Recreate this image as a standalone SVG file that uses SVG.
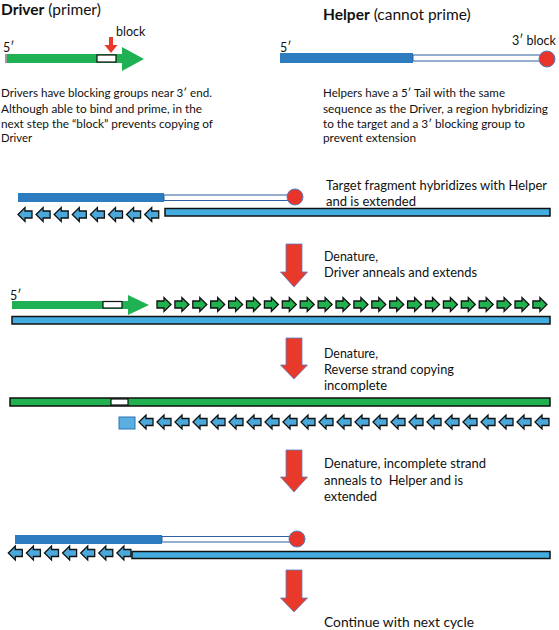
<svg xmlns="http://www.w3.org/2000/svg" width="559" height="630" viewBox="0 0 559 630">
<style>
.t{font-family:Lato,"Open Sans","Liberation Sans",sans-serif;fill:#111}
.ttl{font-size:15.5px}
.b{font-weight:bold}
.p{font-size:11.5px}
.r{font-size:12.5px}
.lbl{font-size:12.5px}
.hb{fill:#2e7cc0}
.hw{fill:#fff;stroke:#2e5f9e;stroke-width:1}
.blk{fill:#e8342a;stroke:#4f7fc0;stroke-width:1}
.tg{fill:#44ade0;stroke:#111;stroke-width:1.5}
.gr{fill:#20b155}
.wb{fill:#fff;stroke:#111;stroke-width:1.2}
.red{fill:#e8392b;stroke:#5b80c0;stroke-width:0.8}
</style>
<defs>
<path id="la" d="M0,0 L7,-7 L7,-3.5 L14,-3.5 L14,3.5 L7,3.5 L7,7 Z" fill="#4aa9da" stroke="#111" stroke-width="1.3" stroke-linejoin="miter"/>
<path id="ra" d="M14,0 L7,-7 L7,-3.5 L0,-3.5 L0,3.5 L7,3.5 L7,7 Z" fill="#21b14e" stroke="#111" stroke-width="1.3"/>
</defs>

<g id="driver-legend">
<text class="t ttl" x="1" y="14.5"><tspan class="b">Driver</tspan> (primer)</text>
<text class="t lbl" x="116" y="36">block</text>
<path d="M109,37 L113,37 L113,45 L117.5,45 L111,53 L104.5,45 L109,45 Z" fill="#e8392b"/>
<text class="t lbl" x="3" y="52">5′</text>
<rect x="5" y="54" width="2" height="9" fill="#9a9a9a"/>
<path class="gr" d="M7,54 L122,54 L122,47 L144,59 L122,71 L122,63 L7,63 Z"/>
<rect class="wb" x="97" y="55" width="19" height="7"/>
<text class="t p" x="1" y="97" textLength="211" lengthAdjust="spacingAndGlyphs">Drivers have blocking groups near 3′ end.</text>
<text class="t p" x="1" y="112.5" textLength="201" lengthAdjust="spacingAndGlyphs">Although able to bind and prime, in the</text>
<text class="t p" x="1" y="128" textLength="212" lengthAdjust="spacingAndGlyphs">next step the “block” prevents copying of</text>
<text class="t p" x="1" y="142" textLength="31" lengthAdjust="spacingAndGlyphs">Driver</text>
</g>

<g id="helper-legend">
<text class="t ttl" x="323" y="20"><tspan class="b">Helper</tspan> (cannot prime)</text>
<text class="t lbl" x="280" y="52">5′</text>
<text class="t lbl" x="512" y="45">3′ block</text>
<rect class="hb" x="280" y="53" width="133" height="10"/>
<rect class="hw" x="413" y="55" width="132" height="6"/>
<circle class="blk" cx="547" cy="59" r="8"/>
<text class="t p" x="323" y="97" textLength="182" lengthAdjust="spacingAndGlyphs">Helpers have a 5′ Tail with the same</text>
<text class="t p" x="323" y="112.5" textLength="225" lengthAdjust="spacingAndGlyphs">sequence as the Driver, a region hybridizing</text>
<text class="t p" x="323" y="128" textLength="202" lengthAdjust="spacingAndGlyphs">to the target and a 3′ blocking group to</text>
<text class="t p" x="323" y="142" textLength="93" lengthAdjust="spacingAndGlyphs">prevent extension</text>
</g>

<g id="step1">
<rect class="hb" x="18" y="193" width="146" height="9"/>
<rect class="hw" x="164" y="195" width="126" height="5.5"/>
<circle class="blk" cx="295" cy="197" r="8"/>
<rect class="tg" x="165" y="208.5" width="385" height="7.5"/>
<g>
<use href="#la" x="18" y="214.5"/><use href="#la" x="36.1" y="214.5"/><use href="#la" x="54.2" y="214.5"/><use href="#la" x="72.3" y="214.5"/>
<use href="#la" x="90.4" y="214.5"/><use href="#la" x="108.5" y="214.5"/><use href="#la" x="126.6" y="214.5"/><use href="#la" x="144.7" y="214.5"/>
</g>
<text class="t r" x="326" y="190" textLength="221" lengthAdjust="spacingAndGlyphs">Target fragment hybridizes with Helper</text>
<text class="t r" x="326" y="206" textLength="90" lengthAdjust="spacingAndGlyphs">and is extended</text>
</g>

<g id="step2">
<text class="t lbl" x="10" y="300">5′</text>
<path class="gr" d="M12,301 L128,301 L128,295 L149,305 L128,315 L128,309 L12,309 Z"/>
<rect class="wb" x="103" y="301.5" width="19" height="6.5"/>
<g>
<use href="#ra" x="157" y="304.5"/><use href="#ra" x="174.9" y="304.5"/><use href="#ra" x="192.8" y="304.5"/><use href="#ra" x="210.7" y="304.5"/>
<use href="#ra" x="228.6" y="304.5"/><use href="#ra" x="246.5" y="304.5"/><use href="#ra" x="264.4" y="304.5"/><use href="#ra" x="282.3" y="304.5"/>
<use href="#ra" x="300.2" y="304.5"/><use href="#ra" x="318.1" y="304.5"/><use href="#ra" x="336" y="304.5"/><use href="#ra" x="353.9" y="304.5"/>
<use href="#ra" x="371.8" y="304.5"/><use href="#ra" x="389.7" y="304.5"/><use href="#ra" x="407.6" y="304.5"/><use href="#ra" x="425.5" y="304.5"/>
<use href="#ra" x="443.4" y="304.5"/><use href="#ra" x="461.3" y="304.5"/><use href="#ra" x="479.2" y="304.5"/><use href="#ra" x="497.1" y="304.5"/>
<use href="#ra" x="515" y="304.5"/><use href="#ra" x="532.9" y="304.5"/>
</g>
<rect class="tg" x="12" y="316.5" width="538" height="7.5"/>
<text class="t r" x="324" y="261" textLength="54" lengthAdjust="spacingAndGlyphs">Denature,</text>
<text class="t r" x="324" y="277" textLength="153" lengthAdjust="spacingAndGlyphs">Driver anneals and extends</text>
</g>

<g id="step3">
<rect x="10" y="398" width="540" height="8" fill="#21b14e" stroke="#111" stroke-width="1.5"/>
<rect class="wb" x="111" y="399" width="17" height="6"/>
<rect x="119" y="417" width="16" height="12" fill="#5aaee0" stroke="#2e75b6" stroke-width="1"/>
<g>
<use href="#la" x="139" y="422"/><use href="#la" x="157" y="422"/><use href="#la" x="175" y="422"/><use href="#la" x="193" y="422"/>
<use href="#la" x="211" y="422"/><use href="#la" x="229" y="422"/><use href="#la" x="247" y="422"/><use href="#la" x="265" y="422"/>
<use href="#la" x="283" y="422"/><use href="#la" x="301" y="422"/><use href="#la" x="319" y="422"/><use href="#la" x="337" y="422"/>
<use href="#la" x="355" y="422"/><use href="#la" x="373" y="422"/><use href="#la" x="391" y="422"/><use href="#la" x="409" y="422"/>
<use href="#la" x="427" y="422"/><use href="#la" x="445" y="422"/><use href="#la" x="463" y="422"/><use href="#la" x="481" y="422"/>
<use href="#la" x="499" y="422"/><use href="#la" x="517" y="422"/><use href="#la" x="535" y="422"/>
</g>
<text class="t r" x="324" y="358" textLength="54" lengthAdjust="spacingAndGlyphs">Denature,</text>
<text class="t r" x="324" y="374" textLength="130" lengthAdjust="spacingAndGlyphs">Reverse strand copying</text>
<text class="t r" x="324" y="389.5" textLength="63" lengthAdjust="spacingAndGlyphs">incomplete</text>
</g>

<g id="step4">
<rect class="hb" x="15" y="535" width="147" height="9"/>
<rect class="hw" x="162" y="536.5" width="130" height="5.5"/>
<circle class="blk" cx="297" cy="539" r="8"/>
<rect class="tg" x="132" y="551.5" width="418" height="7"/>
<g>
<use href="#la" x="8.3" y="553"/><use href="#la" x="26.4" y="553"/><use href="#la" x="44.5" y="553"/><use href="#la" x="62.6" y="553"/>
<use href="#la" x="80.7" y="553"/><use href="#la" x="98.8" y="553"/><use href="#la" x="116.9" y="553"/>
</g>
<text class="t r" x="324" y="468" textLength="162" lengthAdjust="spacingAndGlyphs">Denature, incomplete strand</text>
<text class="t r" x="324" y="484.5" textLength="139" lengthAdjust="spacingAndGlyphs" xml:space="preserve">anneals to  Helper and is</text>
<text class="t r" x="324" y="501" textLength="53" lengthAdjust="spacingAndGlyphs">extended</text>
</g>

<g id="step5">
<text class="t r" x="324" y="627" textLength="150" lengthAdjust="spacingAndGlyphs">Continue with next cycle</text>
</g>

<g id="connectors">
<path class="red" d="M286,244 L302,244 L302,272 L307.5,272 L294,287 L280.5,272 L286,272 Z"/>
<path class="red" d="M286,338 L302,338 L302,365 L307.5,365 L294,379 L280.5,365 L286,365 Z"/>
<path class="red" d="M286,450 L302,450 L302,477 L307.5,477 L294,492 L280.5,477 L286,477 Z"/>
<path class="red" d="M286,570 L302,570 L302,598 L307.5,598 L294,612 L280.5,598 L286,598 Z"/>
</g>
</svg>
